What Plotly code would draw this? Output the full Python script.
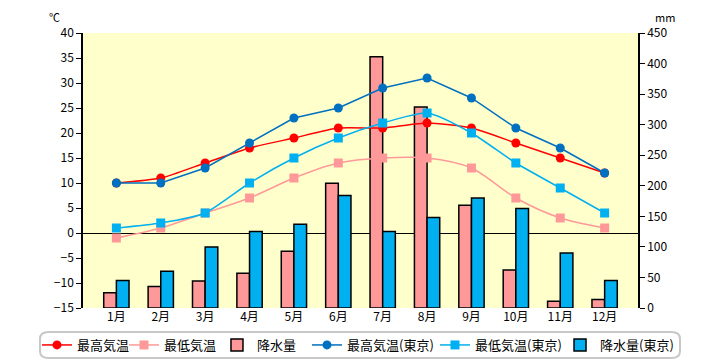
import plotly.graph_objects as go

months = ["1月", "2月", "3月", "4月", "5月", "6月", "7月", "8月", "9月", "10月", "11月", "12月"]
max_temp = [10, 11, 14, 17, 19, 21, 21, 22, 21, 18, 15, 12]
min_temp = [-1, 1, 4, 7, 11, 14, 15, 15, 13, 7, 3, 1]
precip = [25, 35, 44, 57, 93, 204, 411, 329, 168, 62, 11, 14]
max_temp_tokyo = [10, 10, 13, 18, 23, 25, 29, 31, 27, 21, 17, 12]
min_temp_tokyo = [1, 2, 4, 10, 15, 19, 22, 24, 20, 14, 9, 4]
precip_tokyo = [45, 60, 100, 125, 137, 184, 125, 148, 180, 163, 90, 45]

temp_ticks = list(range(-15, 41, 5))
precip_ticks = list(range(0, 451, 50))

FONT = "Noto Sans CJK JP"

fig = go.Figure()

fig.add_trace(go.Scatter(x=months, y=max_temp, name="最高気温", yaxis="y2", legend="legend",
                         mode="lines+markers", line=dict(color="#FF0000", width=1.5, shape="spline", smoothing=0.6),
                         marker=dict(symbol="circle", size=9, color="#FF0000")))
fig.add_trace(go.Scatter(x=months, y=min_temp, name="最低気温", yaxis="y2", legend="legend2",
                         mode="lines+markers", line=dict(color="#FF9999", width=1.5, shape="spline", smoothing=0.8),
                         marker=dict(symbol="square", size=9, color="#FF9999")))
fig.add_trace(go.Bar(x=months, y=precip, name="降水量", yaxis="y", legend="legend3",
                     marker=dict(color="#FF9999", line=dict(color="#000000", width=1.5))))
fig.add_trace(go.Scatter(x=months, y=max_temp_tokyo, name="最高気温(東京)", yaxis="y2", legend="legend4",
                         mode="lines+markers", line=dict(color="#0070C0", width=1.5),
                         marker=dict(symbol="circle", size=9, color="#0070C0")))
fig.add_trace(go.Scatter(x=months, y=min_temp_tokyo, name="最低気温(東京)", yaxis="y2", legend="legend5",
                         mode="lines+markers", line=dict(color="#00B0F0", width=1.5, shape="spline", smoothing=0.6),
                         marker=dict(symbol="square", size=9, color="#00B0F0")))
fig.add_trace(go.Bar(x=months, y=precip_tokyo, name="降水量(東京)", yaxis="y", legend="legend6",
                     marker=dict(color="#00B0F0", line=dict(color="#000000", width=1.5))))

legend_x = [-0.0829, 0.0739, 0.2414, 0.4036, 0.6342, 0.8595]


def leg(x):
    return dict(orientation="h", x=x, xanchor="left", y=-0.1345, yanchor="middle",
                font=dict(family=FONT, size=13), bgcolor="rgba(0,0,0,0)",
                itemwidth=30, borderwidth=0)


# The page body has an 8px default margin, so the figure is sized 712x352
fig.update_layout(
    width=712, height=352,
    margin=dict(l=75, r=82, t=25, b=52, autoexpand=False),
    paper_bgcolor="white",
    plot_bgcolor="#FFFFCC",
    font=dict(family=FONT, size=12, color="#000000"),
    barmode="group",
    bargap=0.43,
    bargroupgap=0,
    showlegend=True,
    legend=leg(legend_x[0]),
    legend2=leg(legend_x[1]),
    legend3=leg(legend_x[2]),
    legend4=leg(legend_x[3]),
    legend5=leg(legend_x[4]),
    legend6=leg(legend_x[5]),
    xaxis=dict(showline=False, ticks="", showgrid=False, tickfont=dict(size=12)),
    yaxis=dict(side="right", range=[0, 450], tickvals=precip_ticks, showgrid=False,
               showline=True, linecolor="#000000", linewidth=1.5, ticks="outside",
               ticklen=5, tickcolor="#000000", zeroline=False, tickfont=dict(size=12)),
    yaxis2=dict(side="left", overlaying="y", range=[-15, 40], tickvals=temp_ticks, showgrid=False,
                showline=True, linecolor="#000000", linewidth=1.5, ticks="outside",
                ticklen=5, tickcolor="#000000", zeroline=True, zerolinecolor="#000000",
                zerolinewidth=1, tickfont=dict(size=12)),
    shapes=[dict(type="path", xref="paper", yref="paper",
                 path="M -0.062,-0.0873 L 1.060,-0.0873 Q 1.0757,-0.0873 1.0757,-0.113 L 1.0757,-0.156 Q 1.0757,-0.1818 1.060,-0.1818 L -0.062,-0.1818 Q -0.0775,-0.1818 -0.0775,-0.156 L -0.0775,-0.113 Q -0.0775,-0.0873 -0.062,-0.0873 Z",
                 line=dict(color="#C8C8C8", width=2), fillcolor="rgba(0,0,0,0)")],
    annotations=[
        dict(text="℃", xref="paper", yref="paper", x=-0.0505, y=1.058, showarrow=False,
             xanchor="center", yanchor="middle", font=dict(size=11)),
        dict(text="mm", xref="paper", yref="paper", x=1.0486, y=1.058, showarrow=False,
             xanchor="center", yanchor="middle", font=dict(size=11)),
    ],
)

fig.write_html("out.html")
